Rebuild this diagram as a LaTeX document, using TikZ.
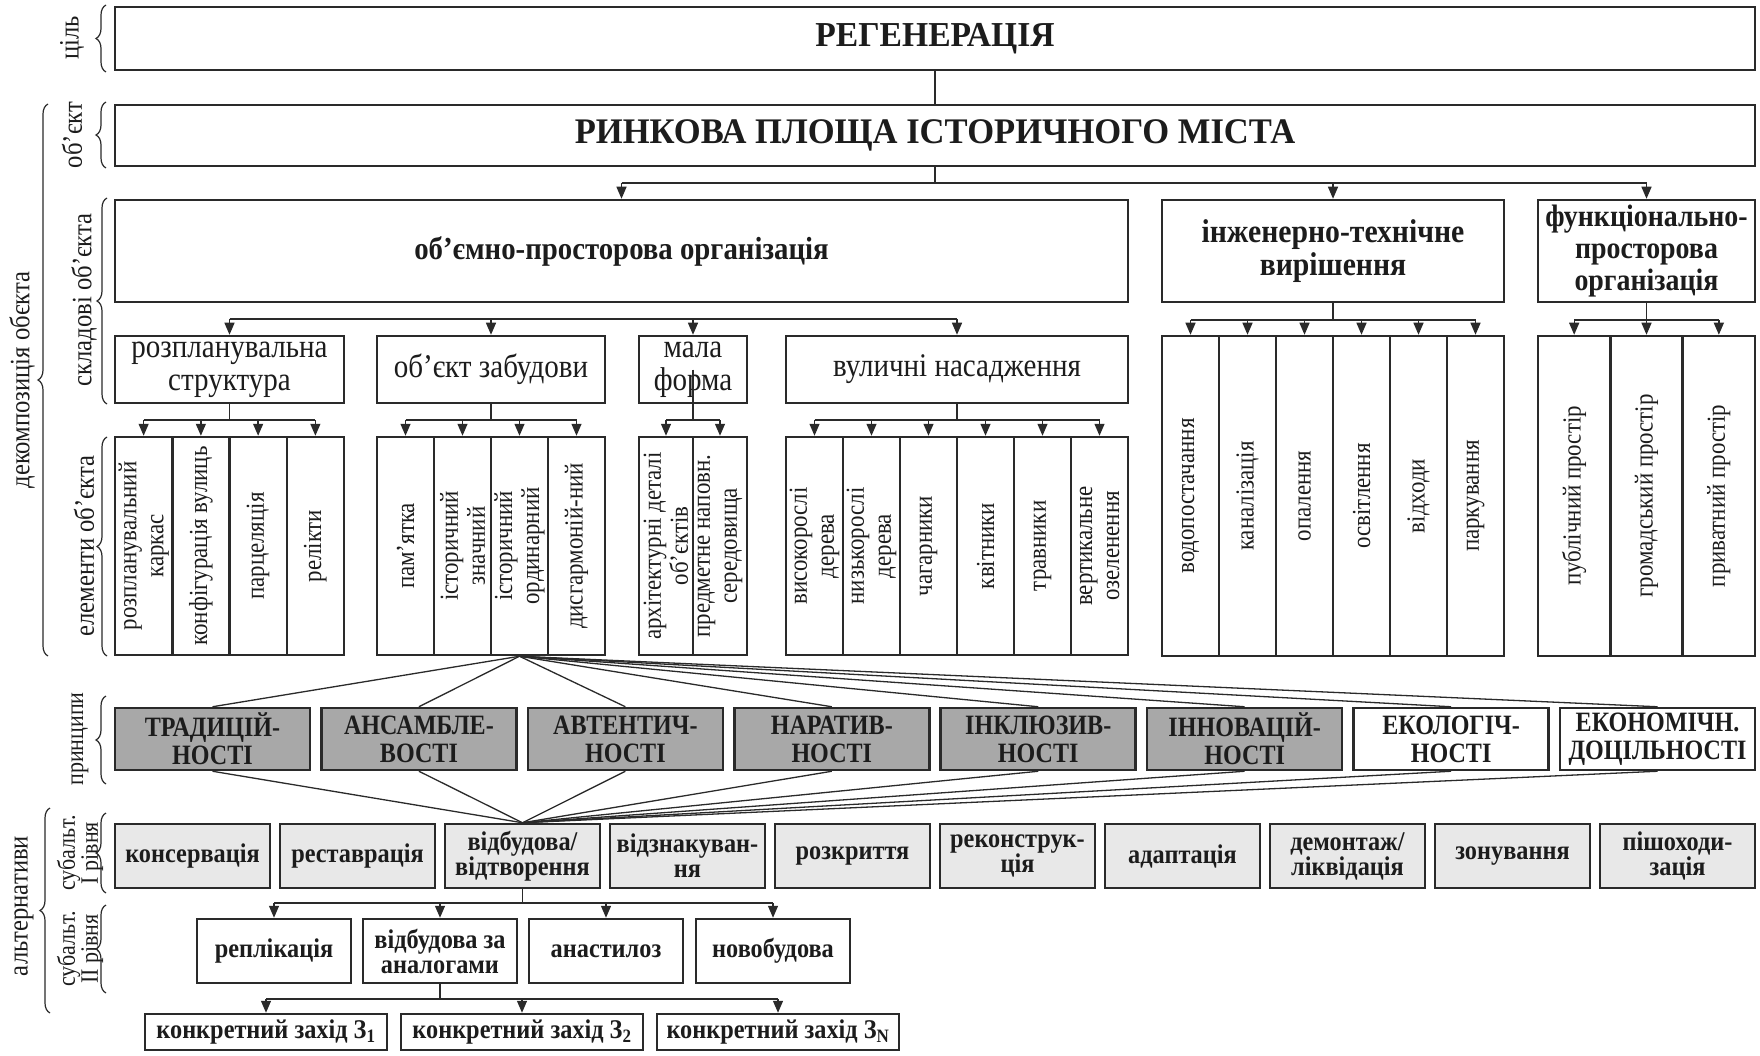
\documentclass[tikz,border=0pt]{standalone}
\usepackage{fontspec}
\setmainfont{Liberation Serif}
\newfontfamily\fttl[FakeStretch=0.96]{Liberation Serif}
\newfontfamily\fcnd[FakeStretch=0.88]{Liberation Serif}
\newfontfamily\fcnb[FakeStretch=0.90]{Liberation Serif}
\newfontfamily\fcnp[FakeStretch=0.86]{Liberation Serif}
\usetikzlibrary{arrows.meta,decorations.pathreplacing}

\definecolor{edge}{HTML}{2A2A2A}
\definecolor{ink}{HTML}{1C1C1C}
\definecolor{pgray}{HTML}{A8A8A8}
\definecolor{agray}{HTML}{E8E8E8}

\tikzset{
  bx/.style={draw=edge, line width=2.5pt, inner sep=0pt, align=center, text=ink},
  conn/.style={draw=edge, line width=1.3pt},
  arr/.style={conn, -{Triangle[length=12pt,width=10pt]}},
  brc/.style={draw=edge, line width=1.2pt, decorate, decoration={brace, amplitude=10pt}},
  ttl/.style={font=\fttl\bfseries\fontsize{35}{38}\selectfont},
  bbig/.style={font=\fcnb\bfseries\fontsize{32}{33}\selectfont},
  subtxt/.style={font=\fcnd\fontsize{33}{33}\selectfont},
  coltxt/.style={rotate=90, align=center, inner sep=0pt, text=ink, font=\fcnd\fontsize{26}{27}\selectfont},
  prin/.style={font=\fcnp\bfseries\fontsize{28}{28}\selectfont},
  alt/.style={font=\fcnb\bfseries\fontsize{27}{25}\selectfont},
  lbl/.style={rotate=90, align=center, inner sep=0pt, text=ink, font=\fcnd\fontsize{28}{28}\selectfont},
  lbls/.style={lbl, font=\fcnd\fontsize{25}{19}\selectfont},
}

% box from its corners: [style]{name}{x1}{y1}{x2}{y2}{text}
\newcommand\rbox[7][]{%
  \node[bx,#1,minimum width={(#5)-(#3)},minimum height={(#6)-(#4)}] (#2)
    at ({((#3)+(#5))/2},{((#4)+(#6))/2}) {#7};}

% a row of tall columns with rotated captions: {prefix}{x1}{x2}{y1}{y2}{count}{captions}
\newcommand\colrow[7]{%
  \foreach \lab [count=\i] in {#7} {
    \pgfmathsetmacro\xa{#2+(\i-1)*((#3)-(#2))/#6}
    \pgfmathsetmacro\xb{#2+\i*((#3)-(#2))/#6}
    \rbox{#1\i}{\xa}{#4}{\xb}{#5}{}
    \node[coltxt] (#1t\i) at (#1\i.center) {\lab};
  }}

% arrows from a bus line down to a row of columns: {stem start}{bus y}{prefix}{count}
\newcommand\busdown[4]{%
  \coordinate (bus) at (0,#2);
  \draw[conn] (#1) -- (#1 |- bus);
  \draw[conn] (#31.north |- bus) -- (#3#4.north |- bus);
  \foreach \i in {1,...,#4} \draw[arr] (#3\i.north |- bus) -- (#3\i.north);
}

\begin{document}
\begin{tikzpicture}[x=1pt,y=-1pt]
\fill[white] (0,0) rectangle (1760,1056);
\useasboundingbox (0,0) rectangle (1760,1056);

% goal and object
\rbox[ttl]{goal}{115}{7}{1755}{70}{РЕГЕНЕРАЦІЯ}
\rbox[ttl,font=\fttl\bfseries\fontsize{36}{38}\selectfont]{obj}{115}{105}{1755}{166}{РИНКОВА ПЛОЩА ІСТОРИЧНОГО МІСТА}

% components of the object
\rbox[bbig]{vol}{115}{200}{1128}{302}{об’ємно-просторова організація}
\rbox[bbig,font=\fcnb\bfseries\fontsize{33}{33}\selectfont]{eng}{1162}{200}{1504}{302}{інженерно-технічне\\вирішення}
\rbox[bbig,font=\fcnb\bfseries\fontsize{31}{32}\selectfont]{func}{1538}{200}{1755}{302}{функціонально-\\просторова\\організація}

\rbox[subtxt]{plan}{115}{336}{344}{403}{розпланувальна\\структура}
\rbox[subtxt]{bld}{377}{336}{605}{403}{об’єкт забудови}
\rbox[subtxt]{mal}{639}{336}{747}{403}{мала\\форма}
\rbox[subtxt]{str}{786}{336}{1128}{403}{вуличні насадження}

% elements of the object
\colrow{pc}{115}{344}{437}{655}{4}{{розпланувальний\\каркас},{конфігурація вулиць},{парцеляція},{релікти}}
\colrow{bc}{377}{605}{437}{655}{4}{{пам’ятка},{історичний\\значний},{історичний\\ординарний},{дисгармоній-ний}}
\colrow{mc}{639}{747}{437}{655}{2}{{архітектурні деталі\\об’єктів},{предметне наповн.\\середовища}}
\colrow{sc}{786}{1128}{437}{655}{6}{{високорослі\\дерева},{низькорослі\\дерева},{чагарники},{квітники},{травники},{вертикальне\\озеленення}}
\colrow{ec}{1162}{1504}{336}{656}{6}{{водопостачання},{каналізація},{опалення},{освітлення},{відходи},{паркування}}
\colrow{fc}{1538}{1755}{336}{656}{3}{{публічний простір},{громадський простір},{приватний простір}}

% links between the upper levels
\coordinate (b0) at (0,183);
\draw[conn] (goal.south) -- (obj.north);
\draw[conn] (obj.south) -- (obj.south |- b0);
\draw[conn] (vol.north |- b0) -- (func.north |- b0);
\foreach \n in {vol,eng,func} \draw[arr] (\n.north |- b0) -- (\n.north);

\coordinate (b1) at (0,319);
\draw[conn] (plan.north |- b1) -- (str.north |- b1);
\foreach \n in {plan,bld,mal,str} \draw[arr] (\n.north |- b1) -- (\n.north);

\busdown{eng.south}{320}{ec}{6}
\busdown{func.south}{320}{fc}{3}
\busdown{plan.south}{420}{pc}{4}
\busdown{bld.south}{420}{bc}{4}
\busdown{mal.center}{420}{mc}{2}
\busdown{str.south}{420}{sc}{6}

% principles
\foreach \lab/\fc [count=\i] in {{ТРАДИЦІЙ-\\НОСТІ}/pgray,{АНСАМБЛЕ-\\ВОСТІ}/pgray,{АВТЕНТИЧ-\\НОСТІ}/pgray,{НАРАТИВ-\\НОСТІ}/pgray,{ІНКЛЮЗИВ-\\НОСТІ}/pgray,{ІННОВАЦІЙ-\\НОСТІ}/pgray,{ЕКОЛОГІЧ-\\НОСТІ}/white,{ЕКОНОМІЧН.\\ДОЦІЛЬНОСТІ}/white} {
  \pgfmathsetmacro\xa{115+(\i-1)*206.43}
  \pgfmathsetmacro\xb{\xa+195}
  \rbox[prin,fill=\fc]{pr\i}{\xa}{708}{\xb}{770}{\lab}
}

% alternatives of the first level
\foreach \lab [count=\i] in {консервація,реставрація,{відбудова/\\відтворення},{відзнакуван-\\ня},розкриття,{реконструк-\\ція},адаптація,{демонтаж/\\ліквідація},зонування,{пішоходи-\\зація}} {
  \pgfmathsetmacro\xa{115+(\i-1)*165}
  \pgfmathsetmacro\xb{\xa+155}
  \rbox[alt,fill=agray]{a\i}{\xa}{824}{\xb}{888}{\lab}
}

% fan of links through the principles
\foreach \i in {1,...,8} {
  \draw[conn] (bc3.south) -- (pr\i.north);
  \draw[conn] (pr\i.south) -- (a3.north);
}

% alternatives of the second level
\rbox[alt]{s1}{197}{919}{351}{983}{реплікація}
\rbox[alt]{s2}{363}{919}{517}{983}{відбудова за\\аналогами}
\rbox[alt]{s3}{529}{919}{683}{983}{анастилоз}
\rbox[alt]{s4}{696}{919}{850}{983}{новобудова}
\busdown{a3.south}{903}{s}{4}

% concrete measures
\rbox[alt]{z1}{145}{1014}{387}{1050}{конкретний захід З\textsubscript{1}}
\rbox[alt]{z2}{401}{1014}{643}{1050}{конкретний захід З\textsubscript{2}}
\rbox[alt]{z3}{657}{1014}{899}{1050}{конкретний захід З\textsubscript{N}}
\busdown{s2.south}{999}{z}{3}

% side captions with braces
\node[lbl] (lgoal) at (72,38) {ціль};
\draw[brc] (106,72) -- (106,5);
\node[lbl] (lobj) at (72,135) {об’єкт};
\draw[brc] (106,168) -- (106,102);
\node[lbl] (lcomp) at (84,300) {складові об’єкта};
\draw[brc] (107,404) -- (107,198);
\node[lbl] (lelem) at (84,546) {елементи об’єкта};
\draw[brc] (107,656) -- (107,437);
\node[lbl] (ldec) at (22,380) {декомпозиція обєкта};
\draw[brc] (48,656) -- (48,104);
\node[lbl,font=\fcnd\fontsize{25}{25}\selectfont] (lprin) at (80,739) {принципи};
\draw[brc] (106,784) -- (106,696);
\node[lbls] (lsub1) at (80,853) {субальт.\\І рівня};
\draw[brc] (106,893) -- (106,813);
\node[lbls] (lsub2) at (80,949) {субальт.\\ІІ рівня};
\draw[brc] (106,993) -- (106,905);
\node[lbl] (lalt) at (24,906) {альтернативи};
\draw[brc] (50,1013) -- (50,808);
\end{tikzpicture}
\end{document}
